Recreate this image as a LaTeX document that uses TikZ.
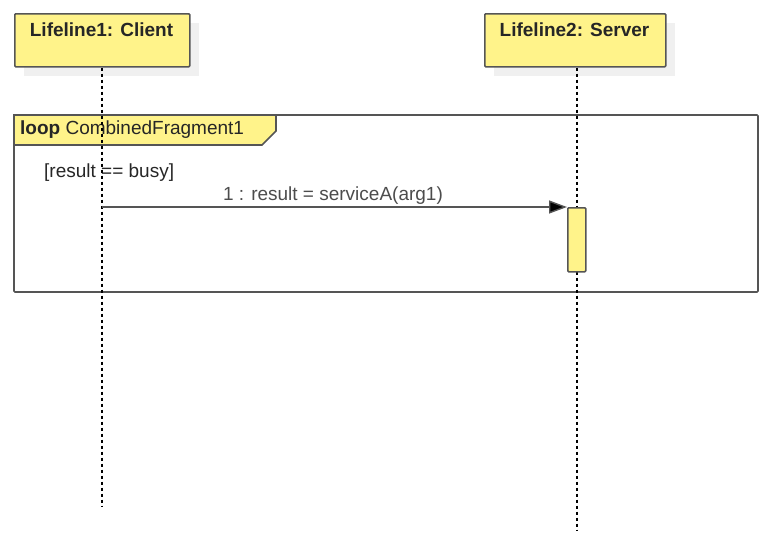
\documentclass[tikz,border=0pt]{standalone}
\usepackage{fontspec}
\setmainfont{Liberation Sans}
\usetikzlibrary{arrows.meta}
\definecolor{fill}{HTML}{FFF38A}
\definecolor{edge}{HTML}{555555}
\begin{document}
\begin{tikzpicture}[x=1pt,y=-1pt,
  life/.style={draw=edge,fill=fill,line width=1.6pt,rounded corners=1pt,minimum width=175pt,minimum height=53pt,inner sep=0pt},
  lline/.style={line width=1.4pt,dash pattern=on 3pt off 3pt},
  txt/.style={font=\fontsize{19}{21}\selectfont,inner sep=0pt,text=black!85}]
\useasboundingbox (0,0) rectangle (773,549);
% shadows
\fill[black!6] (24,23) rectangle (199,76);
\fill[black!6] (494,23) rectangle (675,76);
\node[life,anchor=north west] (c) at (14,13) {};
\node[life,anchor=north west,minimum width=181pt] (s) at (484,13) {};
\node[txt,font=\bfseries\fontsize{19}{21}\selectfont] at (101.5,30) {Lifeline1: Client};
\node[txt,font=\bfseries\fontsize{19}{21}\selectfont] at (574.5,30) {Lifeline2: Server};
% fragment
\draw[edge,line width=1.6pt,rounded corners=1pt] (14,115) rectangle (758,292);
\draw[edge,fill=fill,line width=1.6pt] (14,115) -- (276,115) -- (276,131) -- (262,145) -- (14,145) -- cycle;
\node[txt,anchor=west] (fl) at (20,130) {\textbf{loop} CombinedFragment1};
\node[txt,anchor=west] (g) at (44,173) {[result == busy]};
% lifelines
\coordinate (ce) at (102,507);
\coordinate (se) at (577,530);
\draw[lline] (c.south -| 102,0) -- (ce);
\draw[lline] (s.south -| 577,0) -- (se);
% activation
\node[draw=edge,fill=fill,line width=1.6pt,rounded corners=1pt,minimum width=18pt,minimum height=64pt,inner sep=0pt,anchor=north west] (a) at (567,207) {};
\coordinate (m0) at (102,207);
\draw[edge,line width=1.4pt,-{Triangle[length=18pt,width=13pt,fill=black]}] (m0) -- (a.north west);
\node[txt,text=black!70] at (333,196) {1 : result = serviceA(arg1)};
\end{tikzpicture}
\end{document}
